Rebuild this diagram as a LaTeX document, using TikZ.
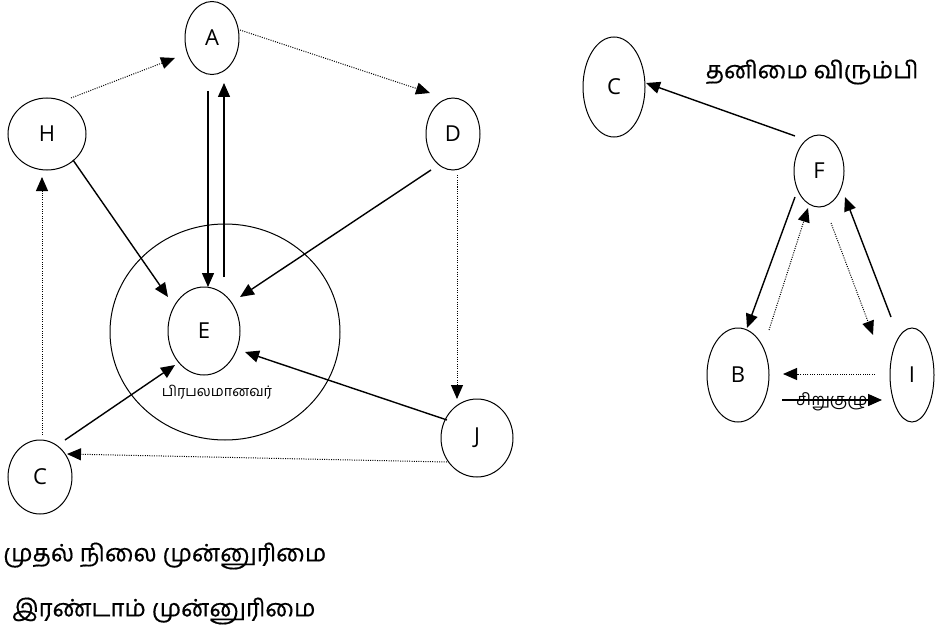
\documentclass[tikz,border=0pt]{standalone}
\usepackage{fontspec}
\setmainfont{Open Sans}
\newfontfamily\tamil[Script=Tamil,FakeBold=0.5]{Hind Madurai}
\newfontfamily\tamilr[Script=Tamil]{Hind Madurai}
\usetikzlibrary{shapes.geometric,arrows.meta}
\begin{document}
\begin{tikzpicture}[x=1pt,y=-1pt,
  nd/.style={draw, ellipse, line width=1pt, inner sep=0pt, font=\fontsize{22}{22}\selectfont},
  sol/.style={line width=1.4pt, -{Triangle[length=14pt,width=12pt]}},
  dot/.style={line width=1pt, dash pattern=on 1pt off 1.3pt, -{Triangle[length=14pt,width=12pt]}},
  tam/.style={font=\tamil\fontsize{24}{24}\selectfont, inner sep=0pt},
  tams/.style={font=\tamilr, inner sep=0pt}]
\useasboundingbox (0,0) rectangle (936,631);
% left graph
\node[draw, ellipse, line width=1pt, minimum width=230pt, minimum height=216pt] (P) at (225,332) {};
\node[nd, minimum width=54pt, minimum height=73pt] (A) at (212,38) {A};
\node[nd, minimum width=78pt, minimum height=72pt] (H) at (47,134) {H};
\node[nd, minimum width=54pt, minimum height=72pt] (D) at (453,134) {D};
\node[nd, minimum width=72pt, minimum height=88pt] (E) at (204,331) {E};
\node[nd, minimum width=72pt, minimum height=78pt] (J) at (477,438) {J};
\node[nd, minimum width=64pt, minimum height=74pt] (CL) at (40,477) {C};
\node[tams, font=\tamilr\fontsize{14.5}{14.5}\selectfont] (lblE) at (217,392) {பிரபலமானவர்};
\node[tam, anchor=west] (t1) at (3,556) {முதல் நிலை முன்னுரிமை};
\node[tam, anchor=west] (t2) at (12,611) {இரண்டாம் முன்னுரிமை};
% right graph
\node[nd, minimum width=62pt, minimum height=100pt] (CR) at (614,87) {C};
\node[nd, minimum width=50pt, minimum height=72pt] (F) at (819,171) {F};
\node[nd, minimum width=62pt, minimum height=94pt] (B) at (738,375) {B};
\node[nd, minimum width=44pt, minimum height=94pt] (I) at (912,375) {I};
\node[tam] (t3) at (812,72) {தனிமை விரும்பி};
% left edges
\draw[dot] ([shift={(24,-36)}]H.center) -- ([shift={(-37,20)}]A.center);
\draw[dot] ([shift={(28,-8)}]A.center) -- ([shift={(-23,-41)}]D.center);
\draw[sol] ([shift={(-4,53)}]A.center) -- ([shift={(4,-44)}]E.center);
\draw[sol] ([shift={(20,-54)}]E.center) -- ([shift={(12,45)}]A.center);
\draw[sol] ([shift={(26,26)}]H.center) -- ([shift={(-36,-34)}]E.center);
\draw[sol] ([shift={(-22,36)}]D.center) -- ([shift={(36,-34)}]E.center);
\draw[dot] ([shift={(4,41)}]D.center) -- ([shift={(-20,-39)}]J.center);
\draw[sol] ([shift={(-30,-18)}]J.center) -- ([shift={(41,21)}]E.center);
\draw[sol] ([shift={(25,-37)}]CL.center) -- ([shift={(-29,34)}]E.center);
\draw[dot] ([shift={(-30,24)}]J.center) -- ([shift={(27,-23)}]CL.center);
\draw[dot] ([shift={(2,-42)}]CL.center) -- ([shift={(-5,43)}]H.center);
% right edges
\draw[sol] ([shift={(-24,-35)}]F.center) -- ([shift={(32,-4)}]CR.center);
\draw[sol] ([shift={(-24,26)}]F.center) -- ([shift={(9,-47)}]B.center);
\draw[dot] ([shift={(31,-45)}]B.center) -- ([shift={(-11,37)}]F.center);
\draw[dot] ([shift={(12,52)}]F.center) -- ([shift={(-39,-40)}]I.center);
\draw[sol] ([shift={(-21,-58)}]I.center) -- ([shift={(26,26)}]F.center);
\draw[dot] ([shift={(-37,-1)}]I.center) -- ([shift={(45,-1)}]B.center);
\draw[sol] ([shift={(44,25)}]B.center) -- node[tams, font=\tamilr\fontsize{16.5}{16.5}\selectfont, yshift=-2pt] {சிறுகுழு} ([shift={(-30,25)}]I.center);
\end{tikzpicture}
\end{document}
